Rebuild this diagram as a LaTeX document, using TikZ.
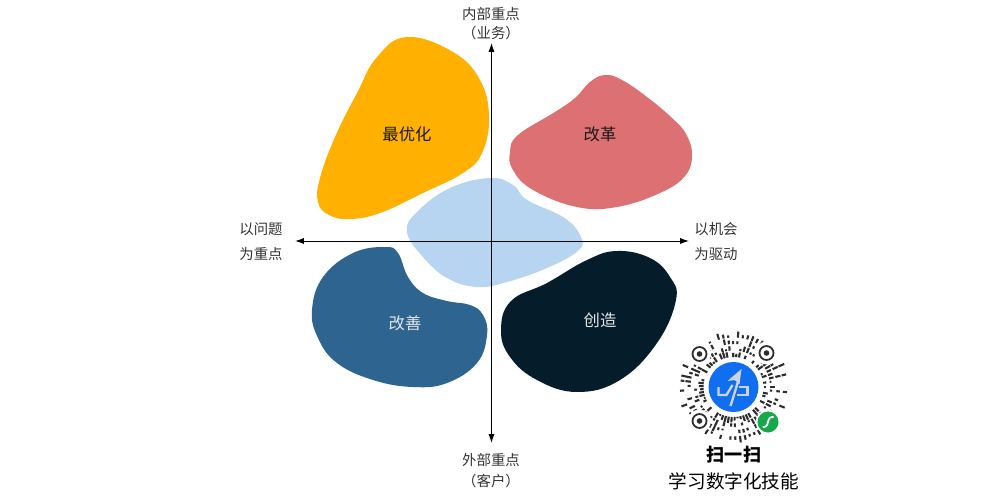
\documentclass[tikz,border=0pt]{standalone}
\usepackage{fontspec}
\setmainfont{Noto Sans CJK SC}
\usetikzlibrary{arrows.meta}

\definecolor{cyellow}{HTML}{FFB000}
\definecolor{cred}{HTML}{DC7072}
\definecolor{clight}{HTML}{B7D4F0}
\definecolor{csteel}{HTML}{2E6490}
\definecolor{cnavy}{HTML}{051C2B}
\definecolor{clabel}{HTML}{333333}
\definecolor{cqr}{HTML}{2C2C2C}
\definecolor{cround}{HTML}{0F6FF0}
\definecolor{cgreen}{HTML}{16A84A}
\definecolor{clogo}{HTML}{CDD3DE}

\tikzset{
	blob/.style={smooth cycle, tension=0.7},
	axis/.style={black, line width=0.55pt, {Latex[length=5pt,width=3.4pt]}-{Latex[length=5pt,width=3.4pt]}},
	axislabel/.style={font=\fontsize{8.2}{10}\selectfont, text=clabel, inner sep=0pt},
	bloblabel/.style={font=\fontsize{9.3}{11}\selectfont, inner sep=0pt},
	ray/.style={cqr, line width=1.2pt},
	finder/.style={cqr, fill=white, line width=1pt},
	logoline/.style={clogo, line width=1.35pt}
}

\begin{document}
\begin{tikzpicture}[x=0.02cm, y=-0.02cm]
	\useasboundingbox (0,0) rectangle (1000,500);

	\fill[clight] plot[blob] coordinates {(490,178) (513,185) (527,200) (563,217) (580,235) (579,250) (547,268) (507,282) (477,287) (447,278) (423,257) (407,232) (417,212) (450,188)};
	\fill[cyellow] plot[blob] coordinates {(407,37) (453,52) (480,80) (489,117) (482,153) (463,173) (423,193) (380,213) (350,219) (329,215) (318,202) (320,178) (335,137) (357,93) (377,57)};
	\fill[cred] plot[blob] coordinates {(605,75) (622,80) (647,97) (672,118) (686,134) (692,155) (685,176) (660,193) (617,207) (577,207) (533,190) (513,170) (510,152) (518,135) (555,112) (575,98) (590,82)};
	\fill[csteel] plot[blob] coordinates {(385,247) (398,253) (408,277) (423,293) (447,301) (470,305) (483,315) (487,335) (477,363) (447,383) (413,387) (373,380) (337,363) (318,338) (312,310) (323,277) (353,253)};
	\fill[cnavy] plot[blob] coordinates {(617,251) (650,258) (670,277) (676,300) (657,343) (620,380) (577,392) (537,380) (510,357) (501,330) (511,301) (547,283) (587,260)};

	\coordinate (north) at (491.5,43);
	\coordinate (south) at (491.5,443);
	\coordinate (west) at (295,241);
	\coordinate (east) at (689,241);
	\draw[axis] (south) -- (north);
	\draw[axis] (west) -- (east);

	\node[axislabel] (inner) at (491,14) {内部重点};
	\node[axislabel] (business) at (491,33) {（业务）};
	\node[axislabel] (outer) at (491,460) {外部重点};
	\node[axislabel] (client) at (491,481) {（客户）};
	\node[axislabel] (problem) at (261,229) {以问题};
	\node[axislabel] (focus) at (261,254) {为重点};
	\node[axislabel] (chance) at (716,229) {以机会};
	\node[axislabel] (driven) at (716,254) {为驱动};

	\node[bloblabel, text=black!90] (optimize) at (407,134) {最优化};
	\node[bloblabel, text=black!90] (reform) at (600,134) {改革};
	\node[bloblabel, text=white!90!black] (improve) at (405,323) {改善};
	\node[bloblabel, text=white!90!black] (create) at (600,320) {创造};

	% scan code
	\begin{scope}[shift={(733.5,387)}]
		\pgfmathsetseed{1729}
		\foreach \a in {0,5.5,...,354} {
			\foreach \r in {30,36.5,43,49.5} {
				\pgfmathsetmacro{\pick}{rnd}
				\pgfmathsetmacro{\len}{1.5+5*rnd}
				\ifdim\pick pt>0.3pt
					\draw[ray] (\a:\r) -- (\a:\r+\len);
				\fi
			}
		}
		\fill[white] (0,0) circle (28.5);
		\fill[cround] (0,0) circle (25);
		\foreach \n/\p in {fa/{(-34,-33)},fb/{(33,-34)},fc/{(-34,34)}} {
			\node[circle, fill=white, minimum size=23*0.02cm, inner sep=0pt] (\n) at \p {};
			\draw[finder] (\n.center) circle (7);
			\fill[cqr] (\n.center) circle (2.8);
		}
		\node[circle, fill=cgreen, draw=white, line width=1pt, minimum size=23*0.02cm, inner sep=0pt] (badge) at (34.5,35) {};
		\draw[white, line width=1pt, rounded corners=1.5pt] (29,40) -- (33,40) -- (36,30) -- (40,30);
		% logo
		\draw[logoline] (-15,0) -- (-15,8) -- (-7,8) -- (-1,-2);
		\draw[logoline] (-3,19) -- (5,-7);
		\draw[logoline] (3,8) -- (14,8) -- (14,0) -- (5,0);
		\fill[clogo] (8,-18) -- (-6,-6) -- (1,-7) -- (6,-3) -- cycle;
	\end{scope}

	\node[inner sep=0pt, font=\fontsize{10.3}{12}\selectfont\bfseries] (scan) at (734,455) {扫一扫};
	\node[inner sep=0pt, font=\fontsize{10.6}{12}\selectfont] (learn) at (734,481) {学习数字化技能};
\end{tikzpicture}
\end{document}
